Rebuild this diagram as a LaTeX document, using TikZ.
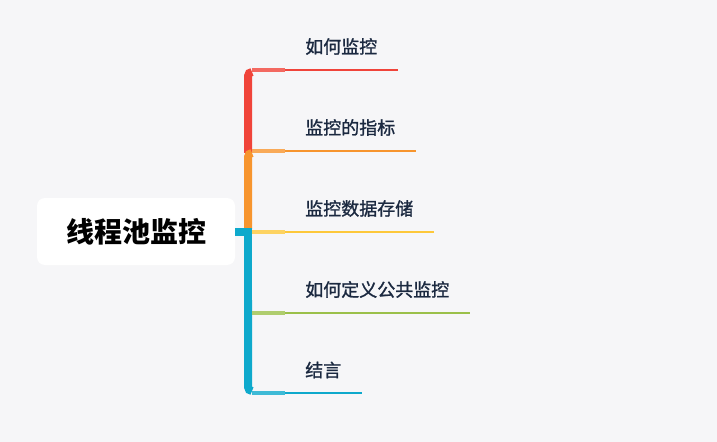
\documentclass[tikz,border=0pt]{standalone}
\usepackage{fontspec}
\newfontfamily\cjk{Noto Sans CJK SC}
\newfontfamily\cjkmed{Noto Sans CJK SC}[FakeBold=1.2]

\definecolor{paper}{HTML}{F6F6F8}
\definecolor{ink}{HTML}{1B2940}
\definecolor{cRed}{HTML}{F0443A}
\definecolor{cOrange}{HTML}{F7952E}
\definecolor{cYellow}{HTML}{FDC83B}
\definecolor{cGreen}{HTML}{9BC04A}
\definecolor{cTeal}{HTML}{0EA9CC}

\begin{document}
\begin{tikzpicture}[x=0.75pt, y=-0.75pt,
    every node/.style={font=\cjk},
    rootbox/.style={fill=white, rounded corners=6pt, minimum width=148.5pt, minimum height=50.25pt,
        font=\cjk\bfseries\fontsize{21}{25}\selectfont},
    leaf/.style={anchor=west, inner xsep=15pt, text=ink, font=\cjkmed\fontsize{13.5}{16}\selectfont},
    stem/.style={line width=6pt},
    twig/.style={line width=3pt},
    leafline/.style={line width=1.5pt}]
  \fill[paper] (0,0) rectangle (717,442);
  \useasboundingbox (0,0) rectangle (717,442);

  \node[rootbox] (root) at (136,231.5) {线程池监控};

  \node[leaf] (l1) at (285,46.5) {如何监控};
  \node[leaf] (l2) at (285,127.5) {监控的指标};
  \node[leaf] (l3) at (285,208.5) {监控数据存储};
  \node[leaf] (l4) at (285,289.5) {如何定义公共监控};
  \node[leaf] (l5) at (285,370) {结言};

  \coordinate (k1) at (252,70);    \coordinate (t1) at (285,70);
  \coordinate (k2) at (252,151);   \coordinate (t2) at (285,151);
  \coordinate (k3) at (252,231.7); \coordinate (t3) at (285,231.7);
  \coordinate (k4) at (252,312.7); \coordinate (t4) at (285,312.7);
  \coordinate (k5) at (252,393);   \coordinate (t5) at (285,393);

  % trunk
  \draw[stem, cRed, rounded corners=3pt] (248,153) |- (252,72);
  \draw[stem, cOrange, rounded corners=3pt] (248,229) |- (252,153);
  \draw[stem, cTeal] (root.east) -| (248,300);
  \draw[stem, cTeal, rounded corners=3pt] (248,300) |- (252,391);

  % branches
  \draw[twig, cRed!80!white] (k1) -- (t1);
  \draw[leafline, cRed] (t1) -- (t1 -| l1.east);
  \draw[twig, cOrange!80!white] (k2) -- (t2);
  \draw[leafline, cOrange] (t2) -- (t2 -| l2.east);
  \draw[twig, cYellow!80!white] (k3) -- (t3);
  \draw[leafline, cYellow] (t3) -- (t3 -| l3.east);
  \draw[twig, cGreen!80!white] (k4) -- (t4);
  \draw[leafline, cGreen] (t4) -- (t4 -| l4.east);
  \draw[twig, cTeal!80!white] (k5) -- (t5);
  \draw[leafline, cTeal] (t5) -- (t5 -| l5.east);
\end{tikzpicture}
\end{document}
